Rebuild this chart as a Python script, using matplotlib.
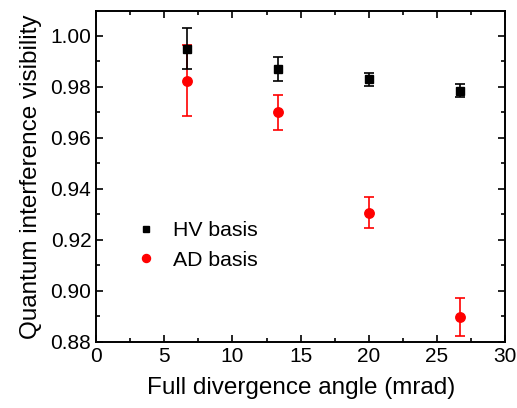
import matplotlib

matplotlib.use("Agg")
import matplotlib.pyplot as plt
from matplotlib.ticker import MultipleLocator

plt.rcParams["font.family"] = ["Liberation Sans", "DejaVu Sans"]

# divergence angle (mrad)
angle = [6.67, 13.33, 20.0, 26.67]

hv_vis = [0.995, 0.987, 0.983, 0.9785]
hv_err = [0.0080, 0.0047, 0.0025, 0.0025]

ad_vis = [0.9825, 0.970, 0.9307, 0.8899]
ad_err = [0.0140, 0.0068, 0.0060, 0.0075]

fig = plt.figure(figsize=(5.17, 4.08), dpi=100)
ax = fig.add_axes([0.186, 0.162, 0.791, 0.811])

ax.errorbar(angle, ad_vis, yerr=ad_err, fmt="o", color="#ff0000", ms=6.8,
            capsize=3.5, elinewidth=1.2, capthick=1.2, label="AD basis")
ax.errorbar(angle, hv_vis, yerr=hv_err, fmt="s", color="black", ms=5.8,
            capsize=3.5, elinewidth=1.2, capthick=1.2, label="HV basis")

ax.set_xlim(0, 30)
ax.set_ylim(0.88, 1.0098)
ax.xaxis.set_major_locator(MultipleLocator(5))
ax.xaxis.set_minor_locator(MultipleLocator(2.5))
ax.yaxis.set_major_locator(MultipleLocator(0.02))
ax.yaxis.set_minor_locator(MultipleLocator(0.01))
ax.yaxis.set_major_formatter(plt.FormatStrFormatter("%.2f"))

ax.tick_params(which="both", direction="in", top=True, right=True, width=1.2,
               labelsize=15)
ax.tick_params(which="major", length=5)
ax.tick_params(which="minor", length=3)
for s in ax.spines.values():
    s.set_linewidth(1.4)

ax.set_xlabel("Full divergence angle (mrad)", fontsize=17.5, labelpad=8)
ax.set_ylabel("Quantum interference visibility", fontsize=17.5, labelpad=6)

# legend: HV first, markers only
handles, labels = ax.get_legend_handles_labels()
handles = [h[0] for h in handles][::-1]
labels = labels[::-1]
ax.legend(handles, labels, loc="center left", bbox_to_anchor=(0.096, 0.292),
          frameon=False, fontsize=15.3, handletextpad=0.77, markerscale=0.85,
          labelspacing=0.5, handlelength=1.0, borderpad=0, borderaxespad=0)

fig.savefig("out.png", dpi=100)
